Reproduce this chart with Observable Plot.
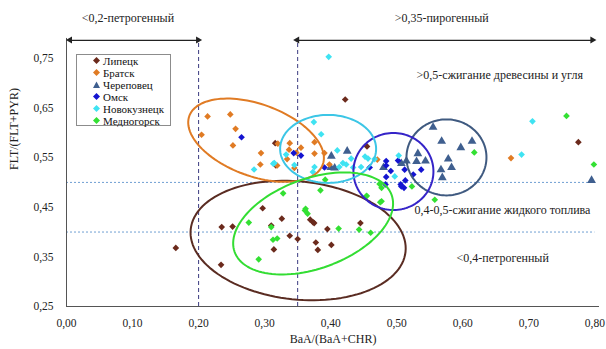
<!DOCTYPE html>
<html><head><meta charset="utf-8">
<script src="https://cdn.jsdelivr.net/npm/d3@7"></script>
<script src="https://cdn.jsdelivr.net/npm/@observablehq/plot@0.6"></script>
<style>
body{margin:0;background:#fff;}
#wrap{position:relative;width:606px;height:349px;font-family:'Liberation Serif','DejaVu Serif',serif;}
#wrap svg text{font-family:'Liberation Serif','DejaVu Serif',serif;}
#legend{position:absolute;left:76px;top:54px;width:95px;height:72px;border:1px solid #8c8c8c;background:#fff;box-sizing:border-box;font-size:11px;color:#111;}
#legend .row{position:absolute;left:0;height:12px;line-height:12px;white-space:nowrap;}
#legend svg{position:absolute;left:16px;top:2px;}
#legend span{position:absolute;left:26px;top:0;}
</style></head>
<body><div id="wrap"></div>
<script>
// ---- data ----
const cities = ["Липецк","Братск","Череповец","Омск","Новокузнецк","Медногорск"];
const colors = ["#6b2a1c","#e07b24","#3f5f8f","#1414d0","#3fe3f2","#33e033"];
const ellipseColors = ["#5a2c22","#e07b24","#3f5a80","#3524c8","#3cc6e6","#33dd33"];
const symbols = ["diamond2","diamond2","triangle","diamond2","diamond2","diamond2"];

const lipetskX = [0.1655,0.234,0.235,0.2515,0.297,0.310,0.326,0.314,0.338,0.350,0.369,0.373,0.375,0.395,0.3775,0.3805,0.401,0.445,0.316,0.317,0.422,0.455,0.775];
const lipetskY = [0.368,0.334,0.410,0.411,0.448,0.413,0.427,0.365,0.3925,0.386,0.425,0.420,0.418,0.406,0.379,0.364,0.374,0.418,0.579,0.534,0.667,0.5725,0.581];

const bratskX = [0.2136,0.248,0.256,0.2045,0.252,0.2945,0.2935,0.320,0.338,0.337,0.334,0.319,0.348,0.345,0.355,0.3755,0.3755,0.3905,0.398,0.4706,0.673];
const bratskY = [0.633,0.637,0.608,0.596,0.5745,0.559,0.536,0.578,0.579,0.566,0.547,0.534,0.560,0.529,0.570,0.581,0.558,0.559,0.536,0.546,0.549];

const cherepovetsX = [0.400,0.406,0.401,0.425,0.480,0.507,0.5146,0.532,0.530,0.5435,0.555,0.568,0.597,0.614,0.578,0.567,0.583,0.569,0.795];
const cherepovetsY = [0.530,0.529,0.553,0.563,0.530,0.538,0.543,0.558,0.542,0.543,0.611,0.583,0.570,0.583,0.547,0.5255,0.530,0.5095,0.504];

const omskX = [0.265,0.344,0.355,0.3906,0.459,0.484,0.484,0.491,0.484,0.512,0.525,0.537,0.506,0.511,0.513,0.483,0.507,0.502];
const omskY = [0.591,0.559,0.554,0.530,0.530,0.543,0.534,0.523,0.511,0.5256,0.516,0.5256,0.496,0.489,0.504,0.496,0.492,0.544];

const novokuznetskX = [0.3745,0.3856,0.3325,0.3147,0.284,0.313,0.345,0.3755,0.373,0.41,0.4185,0.4235,0.431,0.434,0.413,0.446,0.4565,0.452,0.4665,0.503,0.497,0.7055,0.689,0.397];
const novokuznetskY = [0.6216,0.597,0.556,0.539,0.526,0.5377,0.535,0.531,0.521,0.5645,0.539,0.536,0.548,0.530,0.531,0.531,0.548,0.552,0.547,0.554,0.512,0.623,0.556,0.753];

const mednogorskX = [0.328,0.3917,0.3845,0.362,0.454,0.477,0.474,0.477,0.6174,0.5576,0.523,0.757,0.7985,0.276,0.310,0.3127,0.319,0.291,0.361,0.365,0.412,0.443,0.4605,0.475,0.4545];
const mednogorskY = [0.478,0.5055,0.484,0.447,0.472,0.489,0.497,0.462,0.5605,0.465,0.492,0.634,0.536,0.419,0.410,0.3845,0.387,0.345,0.4435,0.437,0.407,0.405,0.3986,0.460,0.473];

const seriesX = [lipetskX,bratskX,cherepovetsX,omskX,novokuznetskX,mednogorskX];
const seriesY = [lipetskY,bratskY,cherepovetsY,omskY,novokuznetskY,mednogorskY];

// ellipses: center (data), semi-axes (px), rotation (deg, clockwise)
const ellCX = [0.3507,0.287,0.5753,0.495,0.3961,0.3734];
const ellCY = [0.383,0.585,0.5504,0.522,0.5675,0.4173];
const ellA = [108,71,40,40,48,83.5];
const ellB = [59,36,38,38.5,34,45];
const ellRot = [6,20,0,0,0,-20];

const xTicks = [0,0.1,0.2,0.3,0.4,0.5,0.6,0.7,0.8];
const yTicks = [0.25,0.35,0.45,0.55,0.65,0.75];
const vLines = [0.2,0.35];
const hLines = [0.5,0.4];

const topLabels = ["<0,2-петрогенный",">0,35-пирогенный"];
const topLabelX = [0.093,0.568];
const noteTexts = [">0,5-сжигание древесины и угля","0,4-0,5-сжигание жидкого топлива","<0,4-петрогенный"];
const noteX = [0.53,0.527,0.5905];
const noteY = [0.7157,0.4435,0.347];

// ---- layout ----
const W = 606, H = 349, mL = 66, mR = 7, mT = 33, mB = 43;
const xDom = [0, 0.807], yDom = [0.25, 0.8];
const kx = (W - mL - mR) / (xDom[1] - xDom[0]);
const ky = (H - mT - mB) / (yDom[1] - yDom[0]);

const points = [];
seriesX.forEach((xs, i) => xs.forEach((x, j) => points.push({city: cities[i], x, y: seriesY[i][j], c: colors[i], s: symbols[i], r: symbols[i] === "triangle" ? 3.2 : 2.7})));

const ellPts = [];
cities.forEach((c, i) => {
  const th = ellRot[i] * Math.PI / 180;
  for (let k = 0; k <= 120; k++) {
    const t = k / 120 * 2 * Math.PI;
    const ex = ellA[i] * Math.cos(t) * Math.cos(th) - ellB[i] * Math.sin(t) * Math.sin(th);
    const ey = ellA[i] * Math.cos(t) * Math.sin(th) + ellB[i] * Math.sin(t) * Math.cos(th);
    ellPts.push({city: c, x: ellCX[i] + ex / kx, y: ellCY[i] - ey / ky, c: ellipseColors[i]});
  }
});

const fmt = d => d.toFixed(2).replace(".", ",");
const arrowY = 0.786;
const arrowSegs = [{x1: 0.006, x2: 0.2}, {x1: 0.35, x2: 0.797}];
const heads = [{x: 0.006, r: -90, dx: 3}, {x: 0.2, r: 90, dx: -3}, {x: 0.35, r: -90, dx: 3}, {x: 0.797, r: 90, dx: -3}];
const FONT = "'Liberation Serif','DejaVu Serif',serif";

const plot = Plot.plot({
  width: W, height: H,
  marginLeft: mL, marginRight: mR, marginTop: mT, marginBottom: mB,
  x: {domain: xDom},
  y: {domain: yDom},
  style: {fontFamily: FONT, fontSize: "11px", color: "#222", background: "#fff"},
  marks: [
    Plot.ruleY(hLines, {x1: 0, x2: 0.8, stroke: "#6f9fd2", strokeDasharray: "2,2", strokeWidth: 1}),
    Plot.ruleX(vLines, {y1: 0.25, y2: 0.79, stroke: "#3b3b80", strokeDasharray: "4,3", strokeWidth: 1}),
    Plot.ruleX([0], {y1: 0.25, y2: 0.79, stroke: "#555", strokeWidth: 1}),
    Plot.ruleY([0.25], {x1: 0, x2: xDom[1], stroke: "#555", strokeWidth: 1}),
    Plot.axisX({ticks: xTicks, tickFormat: fmt, tickSize: 0, tickPadding: 12, label: null, fontSize: 11.5}),
    Plot.axisY({ticks: yTicks, tickFormat: fmt, tickSize: 0, tickPadding: 13, label: null, fontSize: 11.5}),
    Plot.ruleY(arrowSegs, {x1: "x1", x2: "x2", y: arrowY, stroke: "#222", strokeWidth: 1.2}),
    Plot.dot(heads, {x: "x", y: arrowY, rotate: "r", dx: "dx", symbol: "triangle", r: 2.6, fill: "#222", stroke: "none"}),
    Plot.dot(points, {x: "x", y: "y", fill: "c", symbol: "s", r: "r", stroke: "none"}),
    Plot.line(ellPts, {x: "x", y: "y", z: "city", stroke: "c", strokeWidth: 2, curve: "linear"}),
    Plot.text(topLabels, {x: (d, i) => topLabelX[i], y: 0.831, text: d => d, textAnchor: "middle", fontSize: 12, fill: "#222"}),
    Plot.text(noteTexts, {x: (d, i) => noteX[i], y: (d, i) => noteY[i], text: d => d, textAnchor: "start", fontSize: 12, fill: "#222"}),
    Plot.text(["FLT/(FLT+PYR)"], {frameAnchor: "left", rotate: -90, dx: -52, fontSize: 12, fill: "#222"}),
    Plot.text(["BaA/(BaA+CHR)"], {frameAnchor: "bottom", dy: 36, fontSize: 12, fill: "#222"})
  ]
});
plot.style.fontFamily = FONT;
const wrap = document.getElementById("wrap");
wrap.appendChild(plot);

// legend
const leg = document.createElement("div");
leg.id = "legend";
cities.forEach((c, i) => {
  const row = document.createElement("div");
  row.className = "row";
  row.style.top = (i * 12) + "px";
  const sym = symbols[i] === "triangle"
    ? `<polygon points="3.5,0.5 7,7 0,7" fill="${colors[i]}"/>`
    : `<polygon points="3.5,0 7,3.5 3.5,7 0,3.5" fill="${colors[i]}"/>`;
  row.innerHTML = `<svg width="7" height="8">${sym}</svg><span>${c}</span>`;
  leg.appendChild(row);
});
wrap.appendChild(leg);
</script>
</body></html>
